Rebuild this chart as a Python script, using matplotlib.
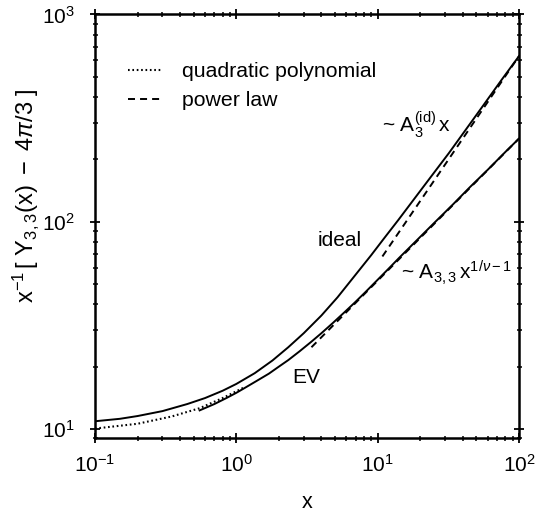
import numpy as np
import matplotlib
matplotlib.use('Agg')
import matplotlib.pyplot as plt

plt.rcParams['font.family'] = ['Liberation Sans', 'DejaVu Sans']
plt.rcParams['mathtext.fontset'] = 'custom'
plt.rcParams['mathtext.rm'] = 'Liberation Sans'
plt.rcParams['mathtext.it'] = 'Liberation Sans:italic'
plt.rcParams['mathtext.sf'] = 'Liberation Sans'
plt.rcParams['font.size'] = 15

# ideal chain
x_ideal = [0.1, 0.15, 0.2, 0.3, 0.45, 0.6, 0.8, 1.0, 1.35, 1.8, 2.33, 3.0, 4.0,
           5.2, 6.9, 9.0, 11, 14, 18, 24, 32, 42, 56, 75, 100]
y_ideal = [10.9, 11.2, 11.55, 12.2, 13.2, 14.1, 15.3, 16.5, 18.6, 21.4, 24.8,
           29.0, 35.3, 43.2, 55, 69, 82.5, 102, 128, 166, 215, 278, 365, 482, 630]

# excluded volume chain
x_ev = [0.55, 0.7, 0.85, 1.0, 1.15, 1.4, 1.7, 2.0, 2.33, 2.8, 3.4, 4.0, 4.8,
        5.8, 6.9, 8.2, 10, 11.9, 14.2, 18, 25, 34, 45, 60, 81.6, 100]
y_ev = [12.3, 13.2, 14.1, 14.95, 15.8, 17.1, 18.5, 20.0, 21.5, 23.7, 26.4, 29.0,
        32.4, 36.5, 40.8, 45.8, 52.5, 59.2, 67.0, 78.7, 98.4, 121, 147, 178, 220, 252]

# quadratic polynomial fit (dotted)
x_quad = [0.1, 0.2, 0.35, 0.55, 0.8, 1.14]
y_quad = [10.05, 10.6, 11.5, 12.6, 14.1, 15.9]

# power laws (dashed)
x_pow_id = [10.8, 100]
y_pow_id = [68, 630]
x_pow_ev = [3.4, 100]
y_pow_ev = [24.8, 252]

fig = plt.figure(figsize=(5.37, 5.14), dpi=100)
ax = fig.add_axes([0.1769, 0.1469, 0.9665 - 0.1769, 0.9718 - 0.1469])

lw = 1.4
dash = (0, (3.6, 2.6))
ax.plot(x_ideal, y_ideal, color='black', lw=lw)
ax.plot(x_ev, y_ev, color='black', lw=lw)
quad, = ax.plot(x_quad, y_quad, color='black', lw=1.5, ls=(0, (0.8, 1.3)),
                label='quadratic polynomial')
pw, = ax.plot(x_pow_id, y_pow_id, color='black', lw=1.4, ls=dash,
              label='power law')
ax.plot(x_pow_ev, y_pow_ev, color='black', lw=1.4, ls=dash)

ax.set_xscale('log')
ax.set_yscale('log')
ax.set_xlim(0.1, 100)
ax.set_ylim(9.0, 1000)

for s in ax.spines.values():
    s.set_linewidth(1.8)
ax.tick_params(which='both', direction='inout', top=True, right=True,
               labelsize=15)
ax.tick_params(which='major', length=6.7, width=1.3)
ax.tick_params(which='minor', length=3.6, width=1.1)
ax.tick_params(axis='x', which='major', pad=8)
ax.tick_params(axis='y', which='major', pad=11)

ax.set_xlabel('x', fontsize=15.5)
ax.xaxis.set_label_coords(0.5, -0.152)
ax.xaxis.label.set_va('center')
ax.set_ylabel(r'$\mathrm{x}^{-1}\,[\ \mathrm{Y}_{3,3}(\mathrm{x})\ -\ 4\pi/3\ ]$',
              fontsize=17)
ax.yaxis.set_label_coords(-0.163, 0.573)
ax.yaxis.label.set_va('center')

ax.legend(handles=[quad, pw], loc='upper left', bbox_to_anchor=(0.077, 0.888),
          frameon=False, handlelength=1.55, handletextpad=1.0,
          labelspacing=0.47, borderpad=0, borderaxespad=0, fontsize=15.3)

ax.text(5.42, 80.9, 'ideal', ha='center', va='center', fontsize=15)
ax.text(3.11, 17.8, 'EV', ha='center', va='center', fontsize=15)
ax.text(10.8, 272, r'~ $\mathrm{A}_3^{(\mathrm{id})}\,\mathrm{x}$',
        ha='left', va='baseline', fontsize=15)
ax.text(14.6, 52.6, r'~ $\mathrm{A}_{3,3}\,\mathrm{x}^{1/\nu-1}$',
        ha='left', va='baseline', fontsize=15)

fig.savefig('out.png', dpi=100)
